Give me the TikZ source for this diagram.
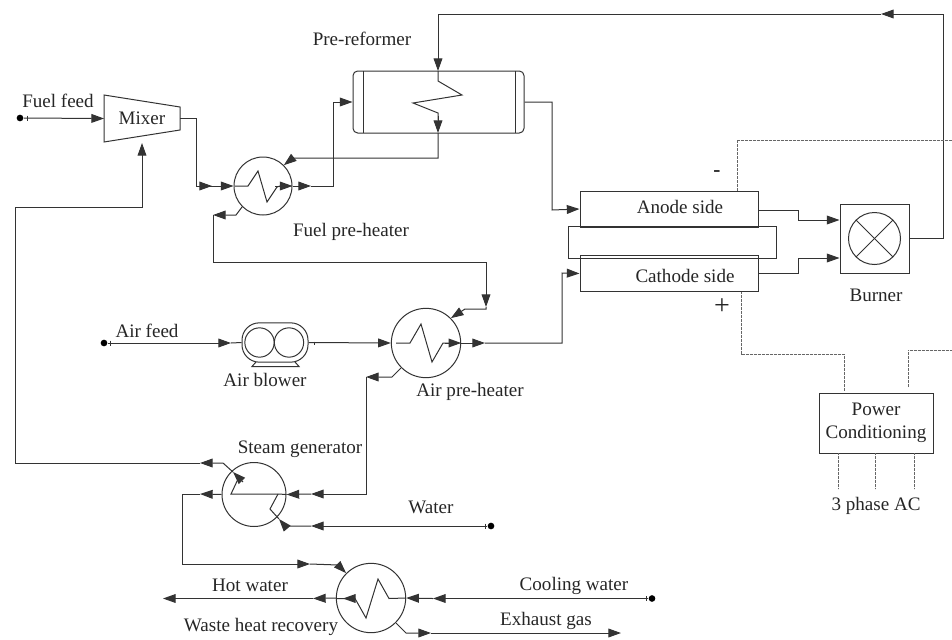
\documentclass[tikz,border=0pt]{standalone}
\usepackage{fontspec}
\setmainfont{Liberation Serif}
\usepackage{tikz}
\usetikzlibrary{arrows.meta,positioning,calc}

\begin{document}
\begin{tikzpicture}[x=0.75pt,y=-0.75pt,>={Triangle[length=9.5pt,width=6.6pt]},
  line width=0.75pt,draw=black!80,text=black!85,
  txt/.style={font=\fontsize{14.3}{16}\selectfont,inner sep=0pt},
  hx/.style={circle,draw,inner sep=0pt,minimum size=#1},
  box/.style={rectangle,draw,inner sep=0pt},
  pt/.style={circle,fill=black,inner sep=0pt,minimum size=5pt},
  wire/.style={dash pattern=on 0.6pt off 0.4pt,line width=0.7pt,draw=black!60}]
\useasboundingbox (0,0) rectangle (952,639);
% equipment
\node[hx=43.5pt] (fph) at (263,186) {};
\node[hx=52pt] (aph) at (426,343) {};
\node[hx=48pt] (sg) at (254,494.5) {};
\node[hx=52pt] (wh) at (371,598) {};
\node[box,rounded corners=3.5pt,minimum width=128.25pt,minimum height=46.5pt] (ref) at (438.5,102) {};
\node[box,minimum width=133.5pt,minimum height=27pt] (an) at (669,209) {};
\node[box,minimum width=133.5pt,minimum height=27.5pt] (ca) at (669,273.5) {};
\node[box,minimum width=156pt,minimum height=24.5pt] (loop) at (672,242.5) {};
\node[box,minimum width=51.75pt,minimum height=51.75pt] (bu) at (874.5,238.5) {};
\node[hx=39pt] (bc) at (bu.center) {};
\node[box,minimum width=85.5pt,minimum height=45pt,txt,align=center] (pc) at (876,423) {Power\\[1pt]Conditioning};
\node[box,rounded corners=13pt,minimum width=49.5pt,minimum height=29.5pt] (bl) at (275,342.5) {};
\node[hx=22pt] (b1) at (259.5,342.5) {};
\node[hx=22pt] (b2) at (289,342.5) {};
\coordinate (mxin) at (104,118.5);
\coordinate (mxout) at (180,118.5);
\coordinate (mxb) at (142,143);
\draw (104,95) -- (180,107) -- (180,130) -- (104,142) -- cycle;
\draw (256,362) -- (252,366.5) -- (299,366.5) -- (295,362);
\draw (bc.45) -- (bc.225); \draw (bc.135) -- (bc.315);
\draw (363,71) -- (363,133); \draw (515,71) -- (515,133);
% coils
\draw (235,186) -- (248,186) -- (258,171) -- (267,202) -- (277,187) -- (280,186);
\draw (396,343) -- (410,343) -- (421,324) -- (432,362) -- (443,343) -- (449,343);
\draw (406,598) -- (389,598.5) -- (378,579) -- (366,618) -- (355,598.5) -- (337,598.5);
\draw (278,494) -- (231,494) -- (239,477);
\draw (279,519) -- (270,509) -- (278,494);
\coordinate (cin) at (438,71);
\coordinate (cout) at (438,133);
\draw (cin) -- (438,81) -- (462,95) -- (413,103) -- (438,113) -- (438,120);
% fuel side
\node[pt] (ff) at (20,118) {};
\draw (27,115.5) -- (27,120.5);
\draw[->] (ff) -- (mxin);
\coordinate (fa) at (212,186);
\draw (mxout) -- (196,118.5) -- (196,186) -- (fa);
\draw[->] (196,186) -- (fa);
\draw[->] (fa) -- (fph.west);
\draw[->] (275,186) -- (fph.east);
\coordinate (fb) at (311,186);
\draw[->] (fph.east) -- (fb);
\draw[->] (fb) -- (333,186) -- (333,102) -- (ref.west);
\draw[->] (438,116) -- (cout);
\draw[->] (cout) -- (438,158) -- (293,158) -- (fph.45);
\coordinate (fc) at (213,215);
\draw[->] (fph.225) -- (236,215) -- (fc);
\coordinate (fd) at (486,307);
\draw[->] (fc) -- (213,262) -- (486,262) -- (fd);
\draw[->] (fd) -- (486,309) -- (465,309) -- (aph.45);
% air side
\node[pt] (af) at (104,343) {};
\draw (110,340.5) -- (110,345.5);
\draw[->] (af) -- (231,343);
\draw (231,343) -- (bl.west);
\draw (314,341.5) -- (314,344.5);
\draw[->] (bl.east) -- (aph.west);
\draw[->] (445,343) -- (aph.east);
\coordinate (aa) at (485,343);
\draw[->] (aph.east) -- (aa);
\draw[->] (aa) -- (562,343) -- (562,273) -- (ca.west);
% stack
\draw[->] (ref.east) -- (552,102) -- (552,210) -- (an.west);
\draw[->] (an.east |- 0,210) -- (798,210) -- (798,220) -- (bu.west |- 0,220);
\draw[->] (ca.east |- 0,273) -- (798,273) -- (798,258) -- (bu.west |- 0,258);
\coordinate (ba) at (881,14);
\draw[->] (bu.east) -- (943,238.5) -- (943,14) -- (ba);
\draw[->] (ba) -- (438,14) -- (cin);
% steam generator
\coordinate (ga) at (366,377);
\draw[->] (aph.225) -- (392,377) -- (ga);
\coordinate (gb) at (311,494);
\draw[->] (ga) -- (366,494) -- (gb);
\draw[->] (gb) -- (sg.east);
\draw (sg.east) -- (278,494);
\coordinate (gc) at (200,494);
\draw[->] (sg.west) -- (gc);
\coordinate (gd) at (310,564);
\draw[->] (gc) -- (182,494) -- (182,564) -- (gd);
\draw[->] (gd) -- (338,565) -- (wh.135);
\node[pt] (wa) at (491,526) {};
\draw (485,523.5) -- (485,528.5);
\coordinate (wb) at (311,526);
\draw[->] (wa) -- (wb);
\draw[->] (wb) -- (285,526) -- (279,519);
\coordinate (sa) at (200,463);
\draw[->] (243,482) -- (233,472);
\draw[->] (233,472) -- (223,463) -- (sa);
\draw[->] (sa) -- (15,463) -- (15,207) -- (142,207) -- (mxb);
% waste heat recovery
\node[pt] (cw) at (652,598.5) {};
\draw (646,596) -- (646,601);
\coordinate (ha) at (433,598.5);
\draw[->] (cw) -- (ha);
\draw[->] (ha) -- (wh.east);
\coordinate (hb) at (343,598.5);
\draw[->] (354,598.5) -- (hb);
\coordinate (hc) at (313,598.5);
\draw[->] (wh.west) -- (hc);
\coordinate (hd) at (163,598.5);
\draw[->] (hc) -- (hd);
\coordinate (ea) at (431,633);
\draw[->] (wh.315) -- (406,633) -- (ea);
\coordinate (eb) at (621,633);
\draw[->] (ea) -- (eb);
% electrical
\coordinate (wn) at (952,140);
\draw[wire] (737,191) -- (737,140) -- (wn);
\coordinate (wp) at (952,350);
\draw[wire] (741,292) -- (741,354) -- (844,354) -- (844,391);
\draw[wire] (908,387) -- (908,350) -- (wp);
\foreach \x in {838,875.5,914}
  \draw[wire] (\x,453) -- (\x,489);
% labels
\node[txt] (lfuel) at (58,101) {Fuel feed};
\node[txt] (lmix) at (142,118.5) {Mixer};
\node[txt] (lref) at (362,39) {Pre-reformer};
\node[txt] (lfph) at (351,232) {Fuel pre-heater};
\node[txt] (lan) at (680,207) {Anode side};
\node[txt] (lca) at (685,275.5) {Cathode side};
\node[txt] (lbu) at (876,295) {Burner};
\node[txt] (lair) at (147,331) {Air feed};
\node[txt] (lbl) at (265,380) {Air blower};
\node[txt] (laph) at (470,392) {Air pre-heater};
\node[txt] (lsg) at (300,449) {Steam generator};
\node[txt] (lwat) at (431,507) {Water};
\node[txt] (lhot) at (250,585) {Hot water};
\node[txt] (lcw) at (574,586) {Cooling water};
\node[txt] (lwh) at (261,627) {Waste heat recovery};
\node[txt] (lex) at (546,621) {Exhaust gas};
\node[txt] (lac) at (876,506) {3 phase AC};
\node[txt,font=\fontsize{16}{16}\selectfont\bfseries] (lminus) at (717,174) {-};
\node[txt,font=\fontsize{21}{21}\selectfont] (lplus) at (722,307) {+};
\end{tikzpicture}
\end{document}
